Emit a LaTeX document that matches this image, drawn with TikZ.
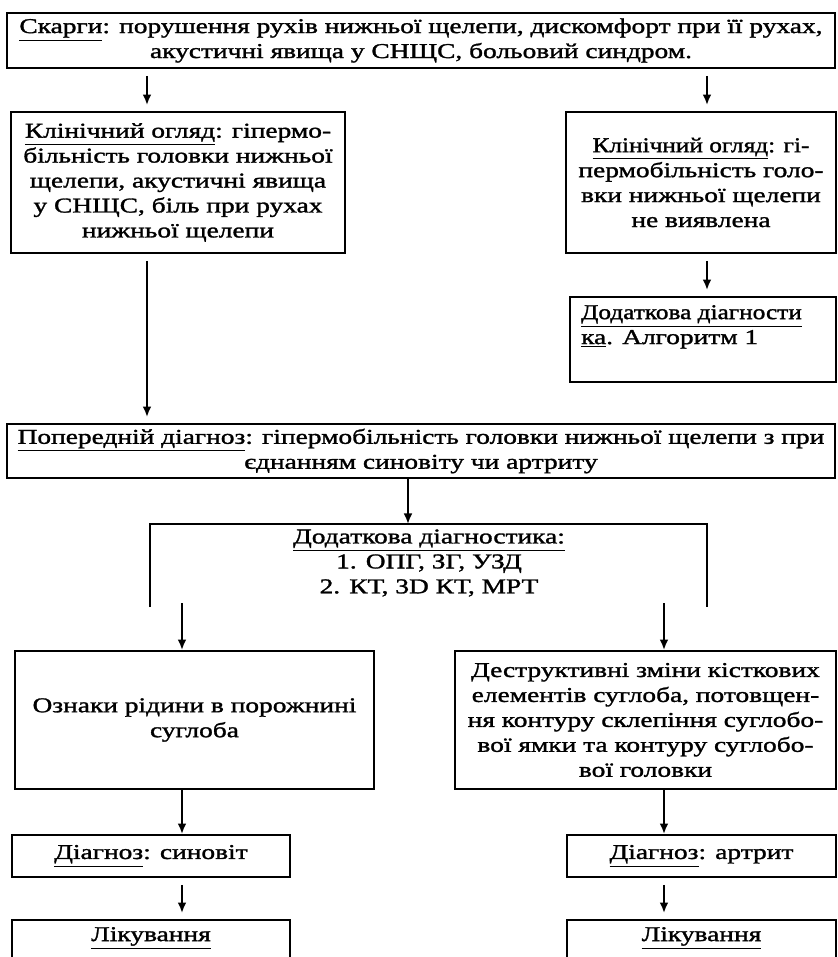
\documentclass[tikz,border=0pt]{standalone}
\usepackage{fontspec}
\setmainfont{Liberation Serif}[FakeStretch=1.3, FakeBold=1.4]
\newfontfamily\narrowfont{Liberation Serif}[FakeStretch=1.2, FakeBold=1.4]
\usetikzlibrary{positioning, arrows.meta}

\begin{document}
\begin{tikzpicture}[
    x=0.02cm, y=-0.02cm,
    >={Latex[length=6pt, width=5pt]},
    flowbox/.style={draw=black, line width=1.1pt, inner sep=1pt, align=center, font=\fontsize{12}{14.2}\selectfont},
    txt/.style={inner sep=1pt, font=\fontsize{12}{14.2}\selectfont},
    flowarrow/.style={->, line width=1.1pt},
    gaparrow/.style={->, line width=1.1pt, shorten <=0.14cm, shorten >=0.12cm},
]
\useasboundingbox (0,0) rectangle (838,957);

% === Columns of the arrows ===
\coordinate (c1) at (147,0);
\coordinate (c2) at (707,0);
\coordinate (c3) at (408,0);
\coordinate (c4) at (182,0);
\coordinate (c5) at (664,0);

% === Complaints ===
\node[flowbox, minimum width=16.56cm, minimum height=1.1cm] (complaints) at (421,40.5)
    {\underline{Скарги}: порушення рухів нижньої щелепи, дискомфорт при її рухах,\\акустичні явища у СНЩС, больовий синдром.};

% === Clinical examination ===
\node[flowbox, minimum width=6.68cm, minimum height=2.82cm] (examyes) at (178,182.5)
    {\underline{Клінічний огляд}: гіпермо-\\більність головки нижньої\\щелепи, акустичні явища\\у СНЩС, біль при рухах\\нижньої щелепи};
\node[flowbox, minimum width=5.4cm, minimum height=2.82cm] (examno) at (701,182.5)
    {\narrowfont\underline{Клінічний огляд}: гі-\\пермобільність голо-\\вки нижньої щелепи\\не виявлена};

% === Algorithm 1 ===
\node[flowbox, minimum width=5.32cm, minimum height=1.7cm] (algone) at (703,339.5) {};
\node[txt, align=left, below right=0.14cm and 0.2cm of algone.north west] (algtext)
    {\narrowfont\underline{Додаткова діагности}\\\underline{ка}. Алгоритм 1};

% === Preliminary diagnosis ===
\node[flowbox, minimum width=16.56cm, minimum height=1.08cm] (prelim) at (421,451)
    {\underline{Попередній діагноз}: гіпермобільність головки нижньої щелепи з при\\єднанням синовіту чи артриту};

% === Additional diagnostics (open frame) ===
\coordinate (frameL) at (150,607);
\coordinate (frameTL) at (150,524);
\coordinate (frameTR) at (707,524);
\coordinate (frameR) at (707,607);
\draw[line width=1.1pt] (frameL) -- (frameTL) -- (frameTR) -- (frameR);
\node[txt, align=center] (extra) at (429,563)
    {\underline{Додаткова діагностика:}\\1. ОПГ, ЗГ, УЗД\\2. КТ, 3D КТ, МРТ};

% === Findings ===
\node[flowbox, minimum width=7.18cm, minimum height=2.76cm] (fluid) at (194.5,720)
    {Ознаки рідини в порожнині\\суглоба};
\node[flowbox, minimum width=7.62cm, minimum height=2.76cm] (destr) at (645.5,720)
    {Деструктивні зміни кісткових\\елементів суглоба, потовщен-\\ня контуру склепіння суглобо-\\вої ямки та контуру суглобо-\\вої головки};

% === Diagnoses ===
\node[flowbox, minimum width=5.56cm, minimum height=0.84cm] (synov) at (151,856)
    {\underline{Діагноз}: синовіт};
\node[flowbox, minimum width=5.38cm, minimum height=0.84cm] (arthr) at (701.5,856)
    {\underline{Діагноз}: артрит};

% === Treatment ===
\node[flowbox, minimum width=5.56cm, minimum height=1.2cm] (treatL) at (151,950) {};
\node[txt, below=0.12cm of treatL.north] (treatLtext) {\underline{Лікування}};
\node[flowbox, minimum width=5.38cm, minimum height=1.2cm] (treatR) at (701.5,950) {};
\node[txt, below=0.12cm of treatR.north] (treatRtext) {\underline{Лікування}};

% === Arrows ===
\draw[gaparrow] (complaints.south -| c1) -- (examyes.north -| c1);
\draw[gaparrow] (complaints.south -| c2) -- (examno.north -| c2);
\draw[gaparrow] (examno.south -| c2) -- (algone.north -| c2);
\draw[gaparrow] (examyes.south -| c1) -- (prelim.north -| c1);
\draw[flowarrow] (prelim.south -| c3) -- (frameTL -| c3);
\draw[flowarrow] ([yshift=0.08cm]frameL -| c4) -- (fluid.north -| c4);
\draw[flowarrow] ([yshift=0.08cm]frameR -| c5) -- (destr.north -| c5);
\draw[flowarrow] (fluid.south -| c4) -- (synov.north -| c4);
\draw[flowarrow] (destr.south -| c5) -- (arthr.north -| c5);
\draw[gaparrow] (synov.south -| c4) -- (treatL.north -| c4);
\draw[gaparrow] (arthr.south -| c5) -- (treatR.north -| c5);

\end{tikzpicture}
\end{document}
